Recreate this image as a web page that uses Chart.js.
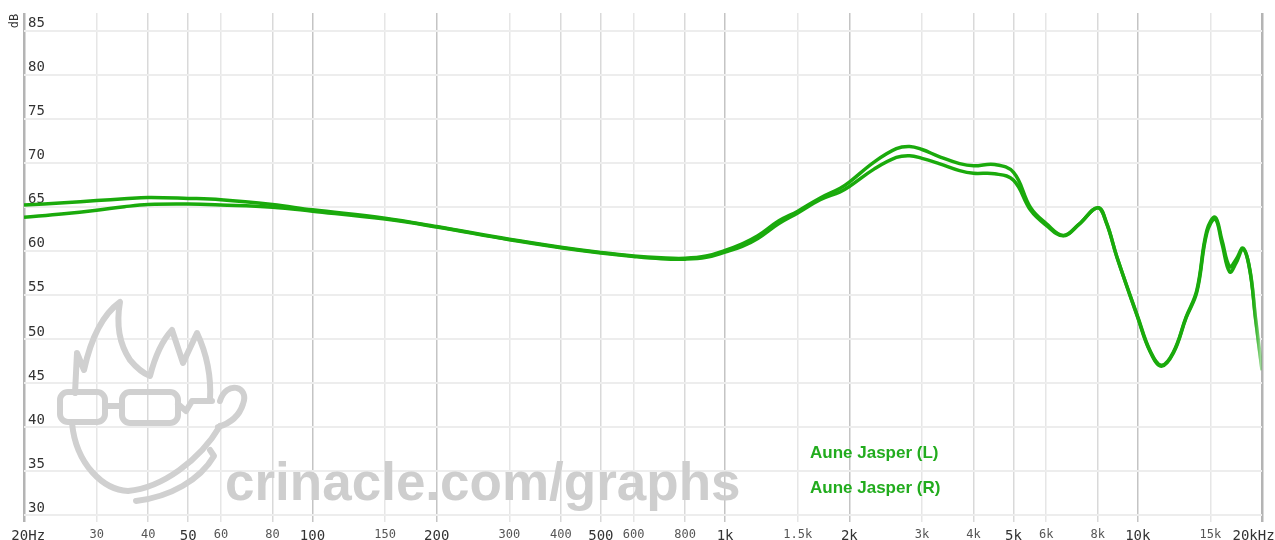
<!DOCTYPE html>
<html>
<head>
<meta charset="utf-8">
<title>Aune Jasper frequency response</title>
<script src="https://cdn.jsdelivr.net/npm/chart.js@4.4.1/dist/chart.umd.min.js"></script>
<style>
  html, body { margin: 0; padding: 0; background: #fff; }
  #wrap { position: relative; width: 1275px; height: 540px; }
</style>
</head>
<body>
<div id="wrap"><canvas id="frChart"></canvas></div>
<script>
// frequencies (Hz) shared by both channels
var freqs = [20, 25, 30, 35, 40, 50, 60, 80, 100, 150, 200, 300, 400, 500, 600, 700, 800, 900,
  1000, 1100, 1200, 1350, 1500, 1700, 1900, 2000, 2300, 2600, 2800, 3000, 3300, 3700, 4000, 4500,
  5000, 5500, 6000, 6600, 7200, 8000, 8400, 8900, 10000, 10700, 11400, 12200, 13100, 13900,
  14700, 15400, 16000, 16700, 17300, 18000, 18700, 19300, 20000];

// dB SPL
var jasperL = [65.2, 65.45, 65.7, 65.9, 66.05, 65.95, 65.8, 65.25, 64.65, 63.7, 62.75, 61.3, 60.4, 59.8, 59.4, 59.2, 59.15, 59.4,
  60.05, 60.8, 61.7, 63.4, 64.5, 66.0, 67.1, 67.8, 70.1, 71.6, 71.85, 71.5, 70.7, 69.9, 69.65, 69.8,
  68.9, 64.9, 63.1, 61.75, 63.0, 64.9, 63.2, 59.3, 52.5, 48.7, 47.0, 48.5, 52.5, 55.5,
  62.3, 63.8, 61.2, 58.2, 59.0, 60.3, 57.8, 52.3, 46.5];

var jasperR = [63.8, 64.2, 64.6, 65.0, 65.25, 65.3, 65.2, 64.95, 64.5, 63.6, 62.7, 61.25, 60.35, 59.75, 59.35, 59.1, 59.05, 59.25,
  59.85, 60.5, 61.4, 63.1, 64.3, 65.8, 66.7, 67.3, 69.3, 70.6, 70.8, 70.5, 69.9, 69.1, 68.8, 68.75,
  68.0, 64.6, 62.9, 61.7, 63.0, 64.9, 63.1, 59.3, 52.4, 48.6, 46.9, 48.4, 52.4, 55.3,
  62.0, 63.6, 60.8, 57.6, 58.6, 60.2, 57.7, 52.2, 46.4];

var seriesNames = ["Aune Jasper (L)", "Aune Jasper (R)"];

var xTicks = [20, 30, 40, 50, 60, 80, 100, 150, 200, 300, 400, 500, 600, 800,
  1000, 1500, 2000, 3000, 4000, 5000, 6000, 8000, 10000, 15000, 20000];
var xLabels = ["20Hz", "30", "40", "50", "60", "80", "100", "150", "200", "300", "400", "500", "600", "800",
  "1k", "1.5k", "2k", "3k", "4k", "5k", "6k", "8k", "10k", "15k", "20kHz"];
var xMajor = [20, 50, 100, 200, 500, 1000, 2000, 5000, 10000, 20000];
var yTicks = [30, 35, 40, 45, 50, 55, 60, 65, 70, 75, 80, 85];

var lineGreen = "rgb(26,170,12)";
var fadeGreen = "rgba(26,170,12,0.12)";
var legendGreen = "rgb(34,172,30)";
var mono = "'DejaVu Sans Mono', monospace";

function toPoints(vals) {
  return freqs.map(function (f, i) { return { x: f, y: vals[i] }; });
}

function fadingStroke(ctx) {
  var chart = ctx.chart;
  if (!chart.chartArea) return lineGreen;
  var xs = chart.scales.x;
  var g = chart.ctx.createLinearGradient(xs.getPixelForValue(18800), 0, xs.getPixelForValue(20000), 0);
  g.addColorStop(0, lineGreen);
  g.addColorStop(1, fadeGreen);
  return g;
}

function gridShade(v) {
  if (v === 20 || v === 20000) return "#b4b4b4";
  if ([100, 200, 1000, 2000, 10000].indexOf(v) >= 0) return "#c4c4c4";
  if ([40, 50, 80, 400, 500, 800, 4000, 5000, 8000].indexOf(v) >= 0) return "#d9d9d9";
  return "#e6e6e6";
}

function roundRect(c, x, y, w, h, r) {
  c.beginPath();
  c.moveTo(x + r, y);
  c.arcTo(x + w, y, x + w, y + h, r);
  c.arcTo(x + w, y + h, x, y + h, r);
  c.arcTo(x, y + h, x, y, r);
  c.arcTo(x, y, x + w, y, r);
  c.closePath();
  c.stroke();
}

// watermark: cartoon head + site name
function drawWatermark(c) {
  c.save();
  c.strokeStyle = "#d0d0d0";
  c.lineWidth = 6;
  c.lineJoin = "round";
  c.lineCap = "round";

  // hair
  c.beginPath();
  c.moveTo(75, 393);
  c.lineTo(77, 353);
  c.lineTo(84, 370);
  c.quadraticCurveTo(95, 320, 120, 302);
  c.quadraticCurveTo(114, 336, 130, 360);
  c.quadraticCurveTo(140, 372, 150, 376);
  c.quadraticCurveTo(158, 345, 172, 330);
  c.lineTo(183, 363);
  c.lineTo(197, 333);
  c.quadraticCurveTo(212, 365, 210, 400);
  c.stroke();

  // glasses
  roundRect(c, 60, 392, 45, 30, 8);
  roundRect(c, 122, 392, 56, 31, 8);
  c.beginPath();
  c.moveTo(105, 406); c.lineTo(122, 406);
  c.moveTo(178, 404); c.lineTo(186, 411); c.lineTo(192, 401); c.lineTo(212, 401);
  c.stroke();

  // face
  c.beginPath();
  c.moveTo(72, 423);
  c.bezierCurveTo(76, 465, 104, 490, 128, 491);
  c.bezierCurveTo(162, 488, 200, 460, 220, 426);
  c.stroke();

  // ear
  c.beginPath();
  c.moveTo(220, 401);
  c.bezierCurveTo(226, 380, 250, 386, 243, 404);
  c.bezierCurveTo(239, 417, 228, 424, 218, 427);
  c.stroke();

  // collar
  c.beginPath();
  c.moveTo(136, 501);
  c.bezierCurveTo(170, 497, 200, 480, 214, 456);
  c.lineTo(210, 450);
  c.stroke();

  c.fillStyle = "#cecece";
  c.font = "bold 53px 'Liberation Sans', Arial, sans-serif";
  c.textBaseline = "alphabetic";
  c.fillText("crinacle.com/graphs", 225, 500);
  c.restore();
}

var decorPlugin = {
  id: "decor",
  beforeDatasetsDraw: function (chart) {
    drawWatermark(chart.ctx);
  },
  afterDraw: function (chart) {
    var c = chart.ctx;
    c.save();
    // legend from dataset labels
    c.font = "bold 17px 'Liberation Sans', Arial, sans-serif";
    c.textBaseline = "middle";
    chart.data.datasets.forEach(function (ds, i) {
      c.fillStyle = legendGreen;
      c.fillText(ds.label, 810, 453 + i * 35);
    });
    // axis unit
    c.fillStyle = "#333";
    c.font = "12px " + mono;
    c.translate(15, 21);
    c.rotate(-Math.PI / 2);
    c.textAlign = "center";
    c.fillText("dB", 0, 0);
    c.restore();
  }
};

var ctx = document.getElementById("frChart").getContext("2d");
var myChart = new Chart(ctx, {
  type: "line",
  data: {
    datasets: [{
      label: seriesNames[0],
      data: toPoints(jasperL),
      borderColor: fadingStroke,
      borderWidth: 3.5,
      pointRadius: 0,
      fill: false,
      tension: 0.4
    }, {
      label: seriesNames[1],
      data: toPoints(jasperR),
      borderColor: fadingStroke,
      borderWidth: 3.5,
      pointRadius: 0,
      fill: false,
      tension: 0.4
    }]
  },
  options: {
    responsive: true,
    maintainAspectRatio: false,
    animation: false,
    layout: { autoPadding: false, padding: { left: 24, right: 13, top: 13, bottom: 0 } },
    plugins: { legend: { display: false }, tooltip: { enabled: false } },
    scales: {
      x: {
        type: "logarithmic",
        min: 20,
        max: 20000,
        afterBuildTicks: function (s) {
          s.ticks = xTicks.map(function (v) { return { value: v }; });
        },
        afterFit: function (s) {
          s.height = 25;
          s.paddingLeft = 0;
          s.paddingRight = 0;
        },
        border: { display: false },
        grid: {
          color: function (c) { return c.tick ? gridShade(c.tick.value) : "#e6e6e6"; },
          lineWidth: function (c) {
            var v = c.tick ? c.tick.value : 0;
            return (v === 20 || v === 20000) ? 2.5 : 1.5;
          },
          drawTicks: true,
          tickLength: 7
        },
        ticks: {
          autoSkip: false,
          maxRotation: 0,
          minRotation: 0,
          padding: 6,
          callback: function (v, i) {
            var lab = xLabels[i];
            if (i === 0) return " " + lab;
            if (i === xLabels.length - 1) return lab + "  ";
            return lab;
          },
          color: function (c) { return xMajor.indexOf(c.tick.value) >= 0 ? "#333" : "#555"; },
          font: function (c) {
            var big = c.tick && xMajor.indexOf(c.tick.value) >= 0;
            return { family: mono, size: big ? 14 : 12 };
          }
        }
      },
      y: {
        type: "linear",
        min: 30,
        max: 87,
        afterBuildTicks: function (s) {
          s.ticks = yTicks.map(function (v) { return { value: v }; });
        },
        afterFit: function (s) {
          s.width = 0;
          s.paddingTop = 0;
          s.paddingBottom = 0;
        },
        border: { display: false },
        grid: { color: "#ededed", lineWidth: 2, drawTicks: false },
        ticks: {
          mirror: true,
          padding: 4,
          labelOffset: -7,
          color: "#333",
          font: { family: mono, size: 14 }
        }
      }
    }
  },
  plugins: [decorPlugin]
});
</script>
</body>
</html>
